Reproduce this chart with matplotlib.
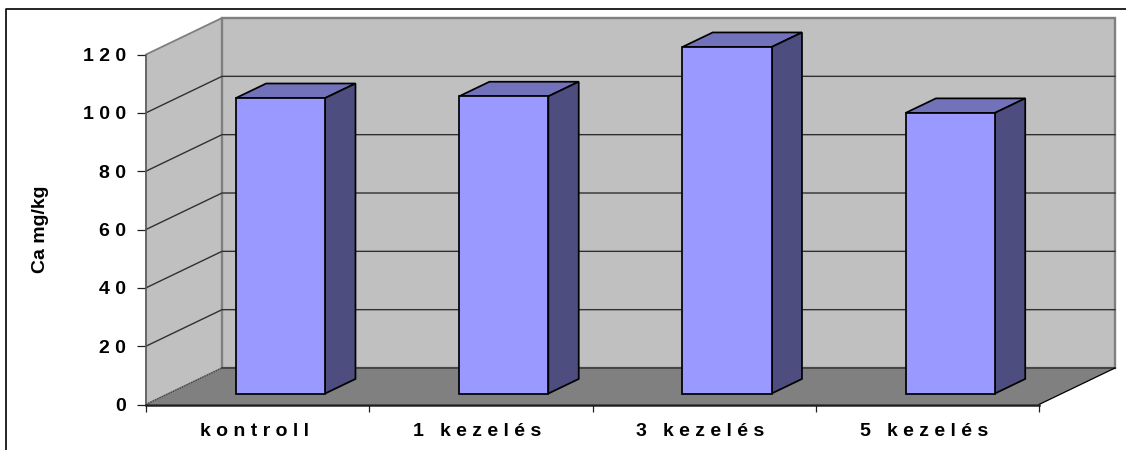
import matplotlib
matplotlib.use("Agg")
import matplotlib.pyplot as plt
from matplotlib.patches import Polygon
from matplotlib.lines import Line2D
from matplotlib.transforms import ScaledTranslation

plt.rcParams['font.family'] = ['Liberation Sans', 'DejaVu Sans']

# data
categories = ["k o n t r o l l", "1   k e z e l é s", "3   k e z e l é s", "5   k e z e l é s"]
values = [101.3, 101.9, 118.8, 96.2]
y_ticks = [0, 20, 40, 60, 80, 100, 120]
y_labels = ["0", "2 0", "4 0", "6 0", "8 0", "1 0 0", "1 2 0"]
y_title = "Ca mg/kg"

# style
W, H = 1126, 450
LEFT, RIGHT, Y0, Y120 = 146, 1039, 404.5, 54.5
DEPTH_X = 76 / ((RIGHT - LEFT) / 4)    # full depth, in category units
DEPTH_Y = 36.5 / ((Y0 - Y120) / 120)   # full depth, in value units
BAR_W = 0.4
D_FRONT, D_BACK = 0.3, 0.7
C_WALL, C_FLOOR = "#C0C0C0", "#808080"
C_FRONT, C_TOP, C_SIDE = "#9999FF", "#7272BA", "#4D4D7F"
C_EDGE_WALL = "#7F7F7F"
C_GRID = "#303030"

fig = plt.figure(figsize=(W / 100, H / 100), dpi=100, facecolor="white")
ax = fig.add_axes([LEFT / W, (H - Y0) / H, (RIGHT - LEFT) / W, (Y0 - Y120) / H])
ax.set_xlim(0, len(categories))
ax.set_ylim(y_ticks[0], y_ticks[-1])
ax.patch.set_visible(False)


def pr(x, y, d):
    """Project a point at depth d (0 front, 1 back) to the axes' data plane."""
    return (x + d * DEPTH_X, y + d * DEPTH_Y)


def face(pts, fc, ec, lw, z):
    ax.add_patch(Polygon(pts, closed=True, facecolor=fc, edgecolor=ec, linewidth=lw,
                         zorder=z, clip_on=False, joinstyle="miter"))


n = len(categories)
top = y_ticks[-1]
# walls and floor
face([pr(0, 0, 0), pr(0, 0, 1), pr(0, top, 1), pr(0, top, 0)], C_WALL, C_EDGE_WALL, 1.3, 1)
face([pr(0, 0, 1), pr(n, 0, 1), pr(n, top, 1), pr(0, top, 1)], C_WALL, C_EDGE_WALL, 1.7, 1)
face([pr(0, 0, 0), pr(n, 0, 0), pr(n, 0, 1), pr(0, 0, 1)], C_FLOOR, "none", 0, 2)

# gridlines
for t in y_ticks[1:-1]:
    xs, ys = zip(pr(0, t, 0), pr(0, t, 1), pr(n, t, 1))
    ax.plot(xs, ys, color=C_GRID, lw=1.0, zorder=1.5, clip_on=False)
xs, ys = zip(pr(0, 0, 1), pr(n, 0, 1))
ax.plot(xs, ys, color="#404040", lw=1.3, zorder=3, clip_on=False)
xs, ys = zip(pr(0, 0, 0), pr(0, 0, 1))
ax.plot(xs, ys, color="#404040", lw=0.9, ls=(0, (1, 1)), zorder=3, clip_on=False)
xs, ys = zip(pr(n, 0, 0), pr(n, 0, 1))
ax.plot(xs, ys, color="black", lw=0.9, zorder=3, clip_on=False)

# bars
for i, v in enumerate(values):
    x0 = i + 0.5 - BAR_W / 2
    x1 = i + 0.5 + BAR_W / 2
    face([pr(x0, v, D_FRONT), pr(x1, v, D_FRONT), pr(x1, v, D_BACK), pr(x0, v, D_BACK)],
         C_TOP, "black", 1.25, 5)
    face([pr(x1, 0, D_FRONT), pr(x1, 0, D_BACK), pr(x1, v, D_BACK), pr(x1, v, D_FRONT)],
         C_SIDE, "black", 1.25, 5)
    face([pr(x0, 0, D_FRONT), pr(x1, 0, D_FRONT), pr(x1, v, D_FRONT), pr(x0, v, D_FRONT)],
         C_FRONT, "black", 1.25, 6)

# axes
for s in ("top", "right"):
    ax.spines[s].set_visible(False)
ax.spines["left"].set_color("#606060")
ax.spines["left"].set_linewidth(1.1)
ax.spines["left"].set_zorder(4)
ax.spines["bottom"].set_color("#202020")
ax.spines["bottom"].set_linewidth(1.8)
ax.spines["bottom"].set_zorder(7)

ax.set_yticks(y_ticks)
ax.set_yticklabels(y_labels, fontsize=14, fontweight="bold")
ax.tick_params(axis="y", length=6.5, width=0.9, pad=8, color="#202020")
ax.set_xticks(range(n + 1))
ax.set_xticklabels([""] * (n + 1))
ax.tick_params(axis="x", which="major", length=5, width=0.9, color="#202020")
ax.set_xticks([i + 0.5 for i in range(n)], minor=True)
ax.set_xticklabels(categories, minor=True, fontsize=14, fontweight="bold")
ax.tick_params(axis="x", which="minor", length=0, pad=13)
for lbl in ax.get_xticklabels(minor=True):
    lbl.set_transform(lbl.get_transform() + ScaledTranslation(-3.5 / 100, 0, fig.dpi_scale_trans))

ax.set_ylabel(y_title, fontsize=14, fontweight="bold", labelpad=0)
ax.yaxis.set_label_coords((49 - LEFT) / (RIGHT - LEFT), (Y0 - 229) / (Y0 - Y120))

# outer frame (open on the right and at the bottom)
fig.add_artist(Line2D([6 / W, 6 / W, 1], [0, 1 - 8.5 / H, 1 - 8.5 / H], color="black", lw=1.2,
                      transform=fig.transFigure))

fig.savefig("out.png", dpi=100, facecolor="white")
